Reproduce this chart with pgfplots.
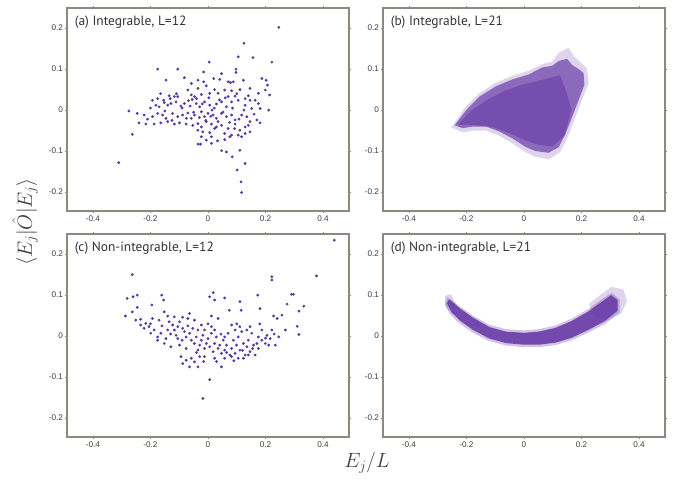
\documentclass[border=0pt]{standalone}
\usepackage{pgfplots}
\pgfplotsset{compat=1.18}
\usepackage{fontspec}
\newfontfamily\tickfont{Liberation Sans}
\newfontfamily\titlefont{PT Sans}
\definecolor{framec}{RGB}{145,135,128}
\definecolor{tickc}{RGB}{60,60,60}
\definecolor{dotc}{RGB}{82,58,165}
\definecolor{cloudc}{RGB}{105,60,168}

\pgfplotsset{panel/.style={
 scale only axis,width=282bp,height=203bp,anchor=north west,
 xmin=-0.49,xmax=0.49,ymin=-0.246,ymax=0.249,
 xtick={-0.4,-0.2,0,0.2,0.4},xticklabels={-0.4,-0.2,0,0.2,0.4},
 ytick={-0.2,-0.1,0,0.1,0.2},yticklabels={-0.2,-0.1,0,0.1,0.2},
 axis line style={framec,line width=1.2bp},
 tick style={framec,line width=0.6bp},major tick length=2bp,tick align=outside,
 ticklabel style={font=\tickfont\fontsize{8.2}{9}\selectfont,text=tickc},
 xticklabel style={yshift=1bp},yticklabel style={xshift=1.5bp},
 axis background/.style={fill=white}},
 dots/.style={only marks,mark=*,mark size=1.2bp,color=dotc}}
\tikzset{ptitle/.style={anchor=west,font=\titlefont\fontsize{13.5}{14}\selectfont,text=black!80}}

\begin{document}
\begin{tikzpicture}
\path[use as bounding box] (0,0) rectangle (676bp,-481bp);

% (a)
\begin{axis}[panel,at={(67bp,-8bp)}]
\addplot[dots] coordinates {
(0.246,0.202) (0.125,0.163) (0.156,0.128) (0.105,0.130) (0.222,0.117) (0.004,0.117)
(-0.175,0.100) (-0.105,0.100) (0.097,0.100) (0.097,0.092) (-0.310,-0.128) (-0.263,-0.059)
(-0.275,-0.002) (0.115,-0.175) (0.117,-0.201) (0.101,-0.146) (0.129,-0.130) (0.084,-0.114)
(0.047,-0.099) (0.064,-0.102) (-0.035,-0.083) (-0.026,-0.083) (0.111,-0.098)
(-0.146,0.073) (-0.082,0.079) (-0.035,0.073) (-0.015,0.093) (0.020,0.077) (0.041,0.075)
(0.047,0.089) (0.070,0.069) (0.078,0.067) (0.088,0.069) (0.123,0.073) (0.187,0.077)
(0.202,0.073) (0.207,0.061) (-0.058,0.065) (-0.015,0.069)
(-0.117,0.033) (-0.070,0.049) (-0.035,0.053) (-0.006,0.059) (0.023,0.050) (0.035,0.041)
(0.058,0.049) (0.082,0.047) (0.111,0.050) (0.146,0.053) (0.175,0.041) (0.199,0.049)
(0.214,0.037) (-0.175,0.028) (-0.154,0.024) (-0.131,0.028) (-0.105,0.033) (-0.058,0.037)
(-0.047,0.033) (-0.023,0.038) (0.006,0.041) (0.070,0.033) (0.094,0.034) (0.129,0.028)
(0.146,0.024) (0.164,0.024)
(-0.193,0.024) (-0.181,0.012) (-0.170,0.008) (-0.152,0.018) (-0.140,0.012) (-0.129,0.016)
(-0.111,0.020) (-0.094,0.010) (-0.082,0.016) (-0.068,0.023) (-0.055,0.026) (-0.041,0.016)
(-0.029,0.008) (-0.012,0.020) (0.006,0.012) (0.014,0.000) (0.029,0.015) (0.047,0.020)
(0.064,0.008) (0.082,0.020) (0.105,0.024) (0.129,0.012) (0.152,0.004) (0.181,0.004)
(0.211,0.000) (0.175,0.016)
(-0.246,-0.008) (-0.222,-0.012) (-0.193,-0.016) (-0.175,-0.008) (-0.158,-0.012) (-0.146,-0.020)
(-0.123,-0.008) (-0.105,-0.016) (-0.088,-0.012) (-0.070,-0.007) (-0.058,-0.020) (-0.047,-0.012)
(-0.023,-0.004) (-0.012,-0.016) (0.000,-0.008) (0.018,-0.012) (0.029,-0.020) (0.047,-0.008)
(0.064,-0.016) (0.082,-0.012) (0.094,-0.024) (0.117,-0.012) (0.135,-0.016) (0.146,-0.028)
(0.170,-0.024) (0.181,-0.031)
(-0.240,-0.031) (-0.216,-0.034) (-0.187,-0.034) (-0.164,-0.031) (-0.140,-0.028) (-0.117,-0.034)
(-0.099,-0.031) (-0.076,-0.034) (-0.053,-0.037) (-0.035,-0.033) (-0.023,-0.041) (-0.006,-0.028)
(0.012,-0.034) (0.029,-0.041) (0.047,-0.037) (0.070,-0.045) (0.094,-0.034) (0.111,-0.049)
(0.129,-0.041) (0.146,-0.053) (-0.035,-0.049) (-0.018,-0.053) (0.006,-0.055) (0.023,-0.045)
(0.058,-0.057) (0.082,-0.061) (0.105,-0.061) (0.129,-0.057) (0.140,-0.037)
(-0.023,-0.065) (-0.006,-0.073) (0.012,-0.065) (0.033,-0.075) (0.058,-0.072) (0.076,-0.065)
(0.117,-0.065) (0.012,-0.081)
(-0.090,0.005) (-0.075,-0.020) (-0.062,0.010) (-0.050,-0.005) (-0.040,0.028) (-0.030,-0.018)
(-0.020,0.015) (-0.008,-0.025) (0.003,0.030) (0.010,-0.015) (0.022,0.005) (0.035,-0.028)
(0.040,0.025) (0.052,-0.005) (0.060,0.030) (0.075,-0.030) (0.085,0.005) (0.092,-0.045)
(0.100,0.040) (0.108,-0.022) (-0.110,0.040) (-0.125,-0.025) (-0.135,0.035) (-0.150,-0.002)
(-0.165,0.040) (-0.200,0.005) (-0.210,-0.022) (0.125,0.000) (0.140,0.035) (0.160,-0.010)
};
\node[ptitle] at (rel axis cs:0.015,0.93) {(a) Integrable, L=12};
\end{axis}

% (b)
\begin{axis}[panel,at={(383bp,-8bp)}]
\addplot[draw=none,fill=cloudc,fill opacity=0.22] coordinates {
(-0.252,-0.042) (-0.207,0.005) (-0.158,0.040) (-0.100,0.066) (-0.040,0.084) (0.017,0.096)
(0.063,0.112) (0.098,0.118) (0.121,0.140) (0.155,0.152) (0.175,0.130) (0.197,0.116)
(0.218,0.102) (0.225,0.067) (0.200,0.022) (0.177,-0.020) (0.152,-0.066) (0.126,-0.102)
(0.086,-0.120) (0.040,-0.114) (0.004,-0.102) (-0.042,-0.080) (-0.088,-0.062) (-0.132,-0.050)
(-0.178,-0.050) (-0.215,-0.054)} -- cycle;
\addplot[draw=none,fill=cloudc,fill opacity=0.7] coordinates {
(-0.241,-0.037) (-0.201,0.000) (-0.155,0.033) (-0.098,0.058) (-0.040,0.075) (0.017,0.087)
(0.063,0.104) (0.098,0.108) (0.121,0.120) (0.150,0.125) (0.167,0.110) (0.190,0.100)
(0.207,0.090) (0.210,0.062) (0.190,0.025) (0.167,-0.017) (0.144,-0.058) (0.121,-0.090)
(0.086,-0.104) (0.040,-0.100) (0.006,-0.090) (-0.040,-0.069) (-0.086,-0.052) (-0.132,-0.040)
(-0.178,-0.040) (-0.213,-0.044)} -- cycle;
\addplot[draw=none,fill=cloudc,fill opacity=0.6] coordinates {
(-0.230,-0.035) (-0.185,-0.002) (-0.125,0.026) (-0.063,0.048) (-0.006,0.062) (0.052,0.072)
(0.098,0.080) (0.125,0.085) (0.145,0.050) (0.165,0.000) (0.140,-0.062) (0.100,-0.088)
(0.052,-0.085) (0.006,-0.074) (-0.052,-0.056) (-0.109,-0.041) (-0.178,-0.036)} -- cycle;
\node[ptitle] at (rel axis cs:0.015,0.93) {(b) Integrable, L=21};
\end{axis}

% (c)
\begin{axis}[panel,at={(67bp,-234bp)}]
\addplot[dots] coordinates {
(-0.263,0.150) (0.222,0.145) (0.222,0.137) (0.377,0.147) (0.439,0.234) (0.006,-0.106)
(-0.018,-0.152) (-0.281,0.092) (-0.260,0.096) (-0.246,0.100) (-0.287,0.049) (-0.263,0.059)
(-0.246,0.070) (-0.251,0.039) (-0.195,0.076) (-0.161,0.100) (-0.154,0.088) (-0.152,0.059)
(-0.140,0.049) (0.006,0.096) (0.018,0.106) (0.023,0.088) (0.058,0.093) (0.074,0.063)
(0.111,0.084) (0.115,0.063) (0.173,0.100) (0.181,0.067) (0.290,0.102) (0.297,0.102)
(0.275,0.078) (0.333,0.073) (0.316,0.061) (0.228,0.049) (0.240,0.043) (0.257,0.051)
(0.310,0.024) (0.316,0.004) (0.269,0.015) (0.012,0.049) (0.035,0.043) (-0.070,0.043)
(-0.088,0.046) (-0.064,0.055)
(-0.234,0.041) (-0.216,0.031) (-0.205,0.023) (-0.187,0.015) (-0.175,-0.002) (-0.164,0.007)
(-0.146,-0.006) (-0.135,0.035) (-0.123,0.027) (-0.117,0.015) (-0.111,0.002) (-0.105,-0.006)
(-0.099,0.035) (-0.088,0.019) (-0.082,0.011) (-0.076,-0.002) (-0.064,0.007) (-0.058,-0.010)
(-0.053,0.019) (-0.047,-0.018) (-0.041,-0.002) (-0.035,0.015) (-0.029,-0.022) (-0.023,-0.010)
(-0.018,0.002) (-0.012,-0.030) (-0.006,-0.018) (0.000,-0.006) (0.006,-0.026) (0.012,0.007)
(0.018,-0.038) (0.023,-0.018) (0.029,-0.002) (0.035,-0.030) (0.041,-0.022) (0.047,-0.042)
(0.053,-0.010) (0.058,-0.034) (0.064,-0.022) (0.070,0.007) (0.076,-0.046) (0.082,-0.030)
(0.088,-0.010) (0.094,-0.042) (0.099,-0.022) (0.105,-0.002) (0.111,-0.034) (0.117,0.011)
(0.123,-0.018) (0.129,-0.046) (0.135,-0.026) (0.140,-0.010) (0.146,-0.038) (0.152,0.007)
(0.158,-0.022) (0.164,-0.046) (0.170,-0.018) (0.175,-0.030) (0.187,-0.010) (0.199,-0.018)
(0.205,0.002) (0.216,-0.006) (0.234,-0.022) (0.246,-0.002)
(-0.094,-0.050) (-0.088,-0.067) (-0.076,-0.059) (-0.064,-0.075) (-0.058,-0.054) (-0.047,-0.063)
(-0.035,-0.075) (-0.029,-0.050) (-0.012,-0.050) (0.023,-0.054) (0.047,-0.075) (0.058,-0.054)
(0.082,-0.050) (0.105,-0.054) (0.123,-0.054) (0.140,-0.046)
(-0.129,-0.026) (-0.152,-0.018) (-0.175,-0.010) (-0.199,0.007) (-0.222,0.019) (-0.234,0.027)
(-0.140,0.015) (-0.099,-0.022) (-0.076,-0.030) (-0.035,-0.034) (-0.012,0.015) (0.023,0.015)
(0.058,-0.002) (0.094,0.015) (0.135,0.015) (0.175,-0.002) (0.211,-0.022)
(-0.193,0.043) (-0.170,0.039) (-0.117,0.047) (-0.105,0.023) (-0.047,0.039) (-0.023,0.027)
(0.012,0.023) (0.082,0.027) (0.111,0.023) (0.146,0.023) (0.187,0.015) (0.222,0.015)
(-0.160,0.025) (-0.130,0.005) (-0.090,-0.010) (-0.070,0.025) (-0.040,-0.040) (-0.015,-0.062)
(0.000,0.030) (0.030,-0.062) (0.045,0.005) (0.065,-0.040) (0.090,-0.060) (0.100,0.030)
(0.120,-0.035) (0.155,-0.030) (0.180,0.030) (0.200,-0.005) (0.230,0.005) (-0.200,0.030)
};
\node[ptitle] at (rel axis cs:0.015,0.93) {(c) Non-integrable, L=12};
\end{axis}

% (d)
\begin{axis}[panel,at={(383bp,-234bp)}]
\addplot[draw=none,fill=cloudc,fill opacity=0.22] coordinates {
(0.225,0.078) (0.268,0.102) (0.305,0.120) (0.345,0.114) (0.358,0.086) (0.338,0.055)
(0.290,0.038) (0.250,0.045)} -- cycle;
\addplot[draw=none,fill=cloudc,fill opacity=0.25] coordinates {
(-0.275,0.098) (-0.255,0.102) (-0.232,0.072) (-0.245,0.052) (-0.273,0.072)} -- cycle;
\addplot[draw=none,fill=cloudc,fill opacity=0.3] coordinates {
(-0.266,0.094) (-0.226,0.074) (-0.180,0.051) (-0.121,0.028) (-0.063,0.017) (0.000,0.014)
(0.051,0.017) (0.109,0.026) (0.166,0.043) (0.223,0.066) (0.269,0.089) (0.305,0.106)
(0.332,0.090) (0.332,0.058) (0.283,0.030) (0.224,0.009) (0.166,-0.010) (0.109,-0.022)
(0.051,-0.027) (0.000,-0.027) (-0.063,-0.023) (-0.122,-0.012) (-0.180,0.009) (-0.228,0.033)
(-0.258,0.054) (-0.275,0.078)} -- cycle;
\addplot[draw=none,fill=cloudc,fill opacity=0.9] coordinates {
(-0.260,0.090) (-0.223,0.068) (-0.177,0.045) (-0.120,0.022) (-0.063,0.011) (0.000,0.008)
(0.051,0.011) (0.109,0.020) (0.166,0.037) (0.223,0.060) (0.269,0.083) (0.303,0.100)
(0.325,0.088) (0.325,0.062) (0.280,0.036) (0.223,0.015) (0.166,-0.004) (0.109,-0.016)
(0.051,-0.021) (0.000,-0.021) (-0.063,-0.017) (-0.120,-0.006) (-0.177,0.015) (-0.223,0.038)
(-0.251,0.058) (-0.268,0.080)} -- cycle;
\node[ptitle] at (rel axis cs:0.015,0.93) {(d) Non-integrable, L=21};
\end{axis}

\node[rotate=90,font=\fontsize{21}{21}\selectfont,text=black!75] at (25bp,-222bp)
 {$\langle E_j|\hat{O}|E_j\rangle$};
\node[font=\fontsize{20}{20}\selectfont,text=black!75] at (367bp,-463bp) {$E_j/L$};
\end{tikzpicture}
\end{document}
